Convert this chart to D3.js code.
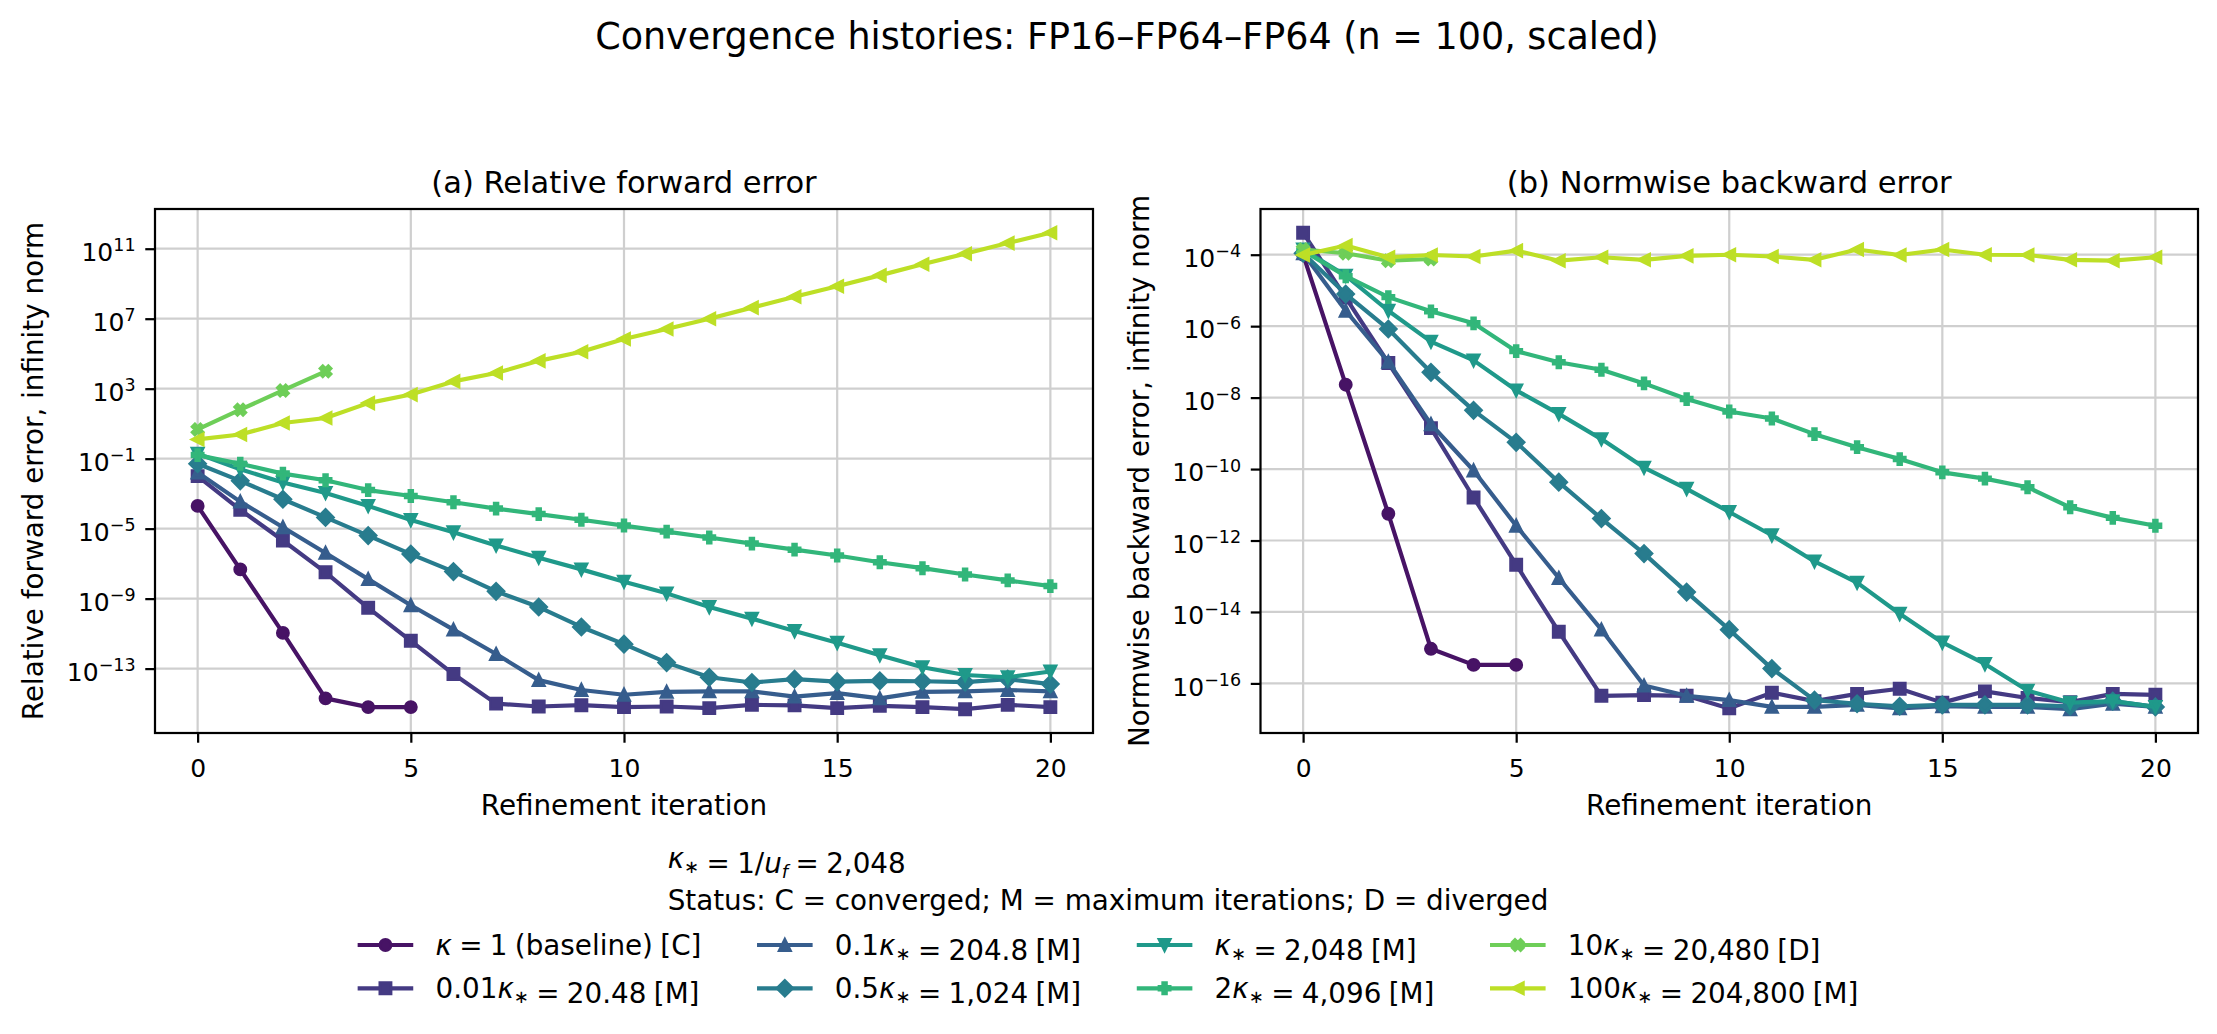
<!DOCTYPE html>
<html>
<head>
<meta charset="utf-8">
<title>Convergence histories: FP16–FP64–FP64</title>
<style>
  body { margin: 0; background: #fff; }
  svg text { font-family: "DejaVu Sans", sans-serif; fill: #000; }
</style>
</head>
<body>
<div id="chart"></div>
<script src="https://cdn.jsdelivr.net/npm/d3@7/dist/d3.min.js"></script>
<script>
// iterations on the x axis
const iterations = [0, 1, 2, 3, 4, 5, 6, 7, 8, 9, 10, 11, 12, 13, 14, 15, 16, 17, 18, 19, 20];
const xTicks = [0, 5, 10, 15, 20];
const fwdTicks = [1e-13, 1e-9, 1e-5, 1e-1, 1e3, 1e7, 1e11];
const bwdTicks = [1e-16, 1e-14, 1e-12, 1e-10, 1e-8, 1e-6, 1e-4];

// legend pieces: coefficient of kappa_*, its value, run status
const kappaCoef = ['', '0.01', '0.1', '0.5', '', '2', '10', '100'];
const kappaValue = ['1', '20.48', '204.8', '1,024', '2,048', '4,096', '20,480', '204,800'];
const runStatus = ['C', 'M', 'M', 'M', 'M', 'M', 'D', 'M'];
const markerKind = ['circle', 'square', 'triUp', 'diamond', 'triDown', 'plus', 'cross', 'triLeft'];

// (a) relative forward error, one array per kappa
const fwdK1    = [2.0e-4, 4.7e-8, 1.1e-11, 2.0e-15, 6.3e-16, 6.3e-16];
const fwdK001  = [1.0e-2, 1.2e-4, 2.1e-6, 3.2e-8, 3.0e-10, 3.9e-12, 4.9e-14, 1.0e-15, 6.8e-16, 8.1e-16, 6.3e-16, 6.8e-16, 5.5e-16, 8.5e-16, 7.9e-16, 5.5e-16, 7.4e-16, 6.3e-16, 4.8e-16, 8.5e-16, 6.3e-16];
const fwdK01   = [1.6e-2, 3.5e-4, 1.2e-5, 4.1e-7, 1.3e-8, 4.2e-10, 1.7e-11, 6.8e-13, 2.2e-14, 6.0e-15, 3.2e-15, 4.7e-15, 5.0e-15, 5.0e-15, 2.5e-15, 4.0e-15, 2.0e-15, 4.7e-15, 5.0e-15, 6.0e-15, 5.0e-15];
const fwdK05   = [5.1e-2, 5.4e-3, 4.8e-4, 4.4e-5, 4.0e-6, 3.5e-7, 3.5e-8, 2.6e-9, 3.3e-10, 2.4e-11, 2.5e-12, 2.2e-13, 3.2e-14, 1.6e-14, 2.5e-14, 1.8e-14, 2.0e-14, 1.9e-14, 1.7e-14, 2.5e-14, 1.3e-14];
const fwdKstar = [1.9e-1, 2.5e-2, 4.3e-3, 1.1e-3, 2.0e-4, 3.1e-5, 6.2e-6, 1.1e-6, 2.2e-7, 4.7e-8, 9.3e-9, 2.0e-9, 3.3e-10, 7.2e-11, 1.4e-11, 3.0e-12, 5.9e-13, 1.2e-13, 4.3e-14, 3.2e-14, 6.8e-14];
const fwdK2    = [1.6e-1, 5.1e-2, 1.4e-2, 5.8e-3, 1.6e-3, 7.4e-4, 3.2e-4, 1.4e-4, 6.8e-5, 3.2e-5, 1.5e-5, 6.8e-6, 3.1e-6, 1.4e-6, 6.3e-7, 2.9e-7, 1.2e-7, 5.5e-8, 2.4e-8, 1.1e-8, 5.2e-9];
const fwdK10   = [4.7, 63, 790, 9800];
const fwdK100  = [1.26, 2.4, 11, 21, 150, 460, 2600, 7800, 3.9e4, 1.3e5, 6.9e5, 2.6e6, 1.0e7, 4.3e7, 1.8e8, 7.2e8, 3.0e9, 1.3e10, 5.2e10, 2.1e11, 8.1e11];

// (b) normwise backward error
const bwdK1    = [1.0e-4, 2.3e-8, 5.6e-12, 9.3e-16, 3.3e-16, 3.3e-16];
const bwdK001  = [4.1e-4, 6.3e-6, 9.3e-8, 1.4e-9, 1.6e-11, 2.1e-13, 2.8e-15, 4.5e-17, 4.7e-17, 4.5e-17, 2.0e-17, 5.5e-17, 3.2e-17, 5.1e-17, 7.1e-17, 2.9e-17, 6.0e-17, 3.9e-17, 3.0e-17, 5.1e-17, 4.8e-17];
const bwdK01   = [1.1e-4, 2.7e-6, 1.0e-7, 1.8e-9, 9.1e-11, 2.6e-12, 8.9e-14, 3.2e-15, 8.7e-17, 4.5e-17, 3.4e-17, 2.2e-17, 2.2e-17, 2.5e-17, 2.0e-17, 2.3e-17, 2.2e-17, 2.2e-17, 1.9e-17, 2.7e-17, 2.2e-17];
const bwdK05   = [1.1e-4, 7.9e-6, 8.3e-7, 5.1e-8, 4.4e-9, 5.6e-10, 4.3e-11, 4.1e-12, 4.3e-13, 3.6e-14, 3.2e-15, 2.6e-16, 3.4e-17, 2.7e-17, 2.3e-17, 2.5e-17, 2.5e-17, 2.5e-17, 2.3e-17, 3.2e-17, 2.2e-17];
const bwdKstar = [1.4e-4, 2.6e-5, 2.7e-6, 3.7e-7, 1.1e-7, 1.6e-8, 3.5e-9, 6.9e-10, 1.1e-10, 2.8e-11, 6.3e-12, 1.4e-12, 2.6e-13, 6.6e-14, 8.9e-15, 1.4e-15, 3.5e-16, 6.3e-17, 2.9e-17, 3.2e-17, 2.2e-17];
const bwdK2    = [1.3e-4, 2.5e-5, 6.5e-6, 2.6e-6, 1.2e-6, 2.0e-7, 9.8e-8, 6.0e-8, 2.5e-8, 9.1e-9, 4.1e-9, 2.6e-9, 9.5e-10, 4.1e-10, 1.9e-10, 8.1e-11, 5.4e-11, 3.1e-11, 8.5e-12, 4.3e-12, 2.6e-12];
const bwdK10   = [1.4e-4, 1.1e-4, 6.8e-5, 7.6e-5];
const bwdK100  = [9.8e-5, 1.8e-4, 8.5e-5, 9.8e-5, 8.9e-5, 1.3e-4, 6.8e-5, 8.5e-5, 7.2e-5, 9.3e-5, 1.0e-4, 8.9e-5, 7.2e-5, 1.4e-4, 9.8e-5, 1.4e-4, 1.0e-4, 9.8e-5, 7.2e-5, 6.8e-5, 8.5e-5];

const fwdSeries = [fwdK1, fwdK001, fwdK01, fwdK05, fwdKstar, fwdK2, fwdK10, fwdK100];
const bwdSeries = [bwdK1, bwdK001, bwdK01, bwdK05, bwdKstar, bwdK2, bwdK10, bwdK100];

// ---- styling (matplotlib at 200 dpi) ----
const W = 2217, H = 1034;
const PT = 200 / 72;
const colors = kappaValue.map((_, i) => d3.interpolateViridis(0.05 + i * 0.85 / 7));
const lineW = 1.5 * PT, markSize = 4 * PT, edgeW = 1 * PT;
const tickLen = 3.5 * PT, tickW = 0.8 * PT;
const tickFont = 25, labelFont = 27.8, titleFont = 30.5;

const svg = d3.select('#chart').append('svg')
  .attr('width', W).attr('height', H);
svg.append('rect').attr('width', W).attr('height', H).attr('fill', '#fff');

function markerPath(kind, m) {
  const h = m / 2;
  const poly = pts => 'M' + pts.map(p => p.join(',')).join('L') + 'Z';
  switch (kind) {
    case 'circle': return `M${h},0A${h},${h} 0 1,1 ${-h},0A${h},${h} 0 1,1 ${h},0Z`;
    case 'square': return poly([[-h, -h], [h, -h], [h, h], [-h, h]]);
    case 'triUp': return poly([[0, -h], [h, h], [-h, h]]);
    case 'triDown': return poly([[0, h], [h, -h], [-h, -h]]);
    case 'triLeft': return poly([[-h, 0], [h, -h], [h, h]]);
    case 'diamond': { const d = m * Math.SQRT1_2; return poly([[0, -d], [d, 0], [0, d], [-d, 0]]); }
    case 'plus': {
      const p = [[-1, -3], [1, -3], [1, -1], [3, -1], [3, 1], [1, 1], [1, 3], [-1, 3], [-1, 1], [-3, 1], [-3, -1], [-1, -1]];
      return poly(p.map(([a, b]) => [a * m / 6, b * m / 6]));
    }
    case 'cross': {
      const p = [[-1, -2], [0, -1], [1, -2], [2, -1], [1, 0], [2, 1], [1, 2], [0, 1], [-1, 2], [-2, 1], [-1, 0], [-2, -1]];
      return poly(p.map(([a, b]) => [a * m / 4, b * m / 4]));
    }
  }
}

function logDomain(list) {
  const all = list.flat();
  const lo = Math.log10(d3.min(all)), hi = Math.log10(d3.max(all));
  const pad = (hi - lo) * 0.05;
  return [Math.pow(10, lo - pad), Math.pow(10, hi + pad)];
}

function expLabel(text, v) {
  const e = Math.round(Math.log10(v));
  text.text(null);
  text.append('tspan').text('10');
  text.append('tspan').attr('font-size', tickFont * 0.7).attr('dy', -9.6)
    .text(e < 0 ? '\u2212' + (-e) : String(e));
}

const panels = [
  { left: 155, right: 1093, top: 209, bottom: 733, series: fwdSeries, ticks: fwdTicks,
    title: '(a) Relative forward error', ylabel: 'Relative forward error, infinity norm' },
  { left: 1260.5, right: 2198, top: 209, bottom: 733, series: bwdSeries, ticks: bwdTicks,
    title: '(b) Normwise backward error', ylabel: 'Normwise backward error, infinity norm' }
];

panels.forEach((p, pi) => {
  const x = d3.scaleLinear().domain([-1, 21]).range([p.left, p.right]);
  const y = d3.scaleLog().domain(logDomain(p.series)).range([p.bottom, p.top]);
  const g = svg.append('g');

  const clipId = 'clip' + pi;
  svg.append('clipPath').attr('id', clipId).append('rect')
    .attr('x', p.left).attr('y', p.top)
    .attr('width', p.right - p.left).attr('height', p.bottom - p.top);

  // grid
  const grid = g.append('g').attr('stroke', '#cfcfcf').attr('stroke-width', 0.8 * PT);
  grid.selectAll('.gx').data(xTicks).join('line')
    .attr('x1', d => x(d)).attr('x2', d => x(d)).attr('y1', p.top).attr('y2', p.bottom);
  grid.selectAll('.gy').data(p.ticks).join('line')
    .attr('x1', p.left).attr('x2', p.right).attr('y1', d => y(d)).attr('y2', d => y(d));

  // series
  const plot = g.append('g').attr('clip-path', `url(#${clipId})`);
  const line = d3.line().x((d, i) => x(iterations[i])).y(d => y(d));
  p.series.forEach((vals, si) => {
    plot.append('path').datum(vals)
      .attr('d', line).attr('fill', 'none')
      .attr('stroke', colors[si]).attr('stroke-width', lineW)
      .attr('stroke-linejoin', 'round');
    plot.append('g').selectAll('path').data(vals).join('path')
      .attr('transform', (d, i) => `translate(${x(iterations[i])},${y(d)})`)
      .attr('d', markerPath(markerKind[si], markSize))
      .attr('fill', colors[si]).attr('stroke', colors[si]).attr('stroke-width', edgeW)
      .attr('stroke-linejoin', 'miter');
  });

  // axes
  const xa = g.append('g').attr('transform', `translate(0,${p.bottom})`)
    .call(d3.axisBottom(x).tickValues(xTicks).tickSize(tickLen).tickSizeOuter(0));
  xa.select('.domain').remove();
  xa.selectAll('line').attr('stroke-width', tickW);
  xa.selectAll('text').attr('font-size', tickFont).attr('font-family', 'DejaVu Sans')
    .attr('y', 43.7).attr('dy', null).attr('fill', '#000');

  const ya = g.append('g').attr('transform', `translate(${p.left},0)`)
    .call(d3.axisLeft(y).tickValues(p.ticks).tickSize(tickLen).tickSizeOuter(0));
  ya.select('.domain').remove();
  ya.selectAll('line').attr('stroke-width', tickW);
  ya.selectAll('text').attr('font-size', tickFont).attr('font-family', 'DejaVu Sans')
    .attr('x', -2 * tickLen).attr('y', 11.7).attr('dy', null).attr('fill', '#000')
    .each(function (d) { expLabel(d3.select(this), d); });

  // spines
  g.append('rect').attr('x', p.left).attr('y', p.top)
    .attr('width', p.right - p.left).attr('height', p.bottom - p.top)
    .attr('fill', 'none').attr('stroke', '#000').attr('stroke-width', 0.8 * PT);

  const cx = (p.left + p.right) / 2;
  g.append('text').attr('x', cx).attr('y', 193.3).attr('text-anchor', 'middle')
    .attr('font-size', titleFont).text(p.title);
  g.append('text').attr('x', cx).attr('y', 815).attr('text-anchor', 'middle')
    .attr('font-size', labelFont).text('Refinement iteration');
  g.append('text').attr('transform', `translate(${p.left - 112},${(p.top + p.bottom) / 2}) rotate(-90)`)
    .attr('text-anchor', 'middle').attr('font-size', labelFont).text(p.ylabel);
});

svg.append('text').attr('x', 1127).attr('y', 49).attr('text-anchor', 'middle')
  .attr('font-size', 36.5).text('Convergence histories: FP16\u2013FP64\u2013FP64 (n = 100, scaled)');

// ---- legend ----
const subDy = 5, subSize = labelFont * 0.65;
function kappaStar(t) {
  t.append('tspan').attr('font-style', 'italic').text('\u03ba');
  t.append('tspan').attr('font-size', subSize).attr('dy', subDy).text('\u2217');
  t.append('tspan').attr('dy', -subDy).text('');
}
function entryLabel(t, i) {
  if (i === 0) {
    t.append('tspan').attr('font-style', 'italic').text('\u03ba');
    t.append('tspan').text(` = ${kappaValue[i]} (baseline) [${runStatus[i]}]`);
    return;
  }
  if (kappaCoef[i]) t.append('tspan').text(kappaCoef[i]);
  kappaStar(t);
  t.append('tspan').text(` = ${kappaValue[i]} [${runStatus[i]}]`);
}

const legend = svg.append('g');
const legendCx = 1108;
const handleLen = 2 * labelFont, handlePad = 0.8 * labelFont, colSpace = 2 * labelFont;
const rowY = [945, 988.3];
const ncol = 4;

const entries = kappaValue.map((_, i) => {
  const eg = legend.append('g');
  eg.append('line').attr('x1', 0).attr('x2', handleLen).attr('y1', 0).attr('y2', 0)
    .attr('stroke', colors[i]).attr('stroke-width', lineW);
  eg.append('path').attr('transform', `translate(${handleLen / 2},0)`)
    .attr('d', markerPath(markerKind[i], markSize))
    .attr('fill', colors[i]).attr('stroke', colors[i]).attr('stroke-width', edgeW);
  const t = eg.append('text').attr('x', handleLen + handlePad).attr('y', 10)
    .attr('font-size', labelFont).attr('word-spacing', -1.5);
  entryLabel(t, i);
  return { g: eg, w: t.node().getComputedTextLength() };
});

const colW = d3.range(ncol).map(c => handleLen + handlePad + d3.max([entries[2 * c].w, entries[2 * c + 1].w]));
const totalW = d3.sum(colW) + colSpace * (ncol - 1);
let cx0 = legendCx - totalW / 2;
d3.range(ncol).forEach(c => {
  [0, 1].forEach(r => entries[2 * c + r].g.attr('transform', `translate(${cx0},${rowY[r]})`));
  cx0 += colW[c] + colSpace;
});

// legend title, two left-aligned lines centred as a block
const titleG = legend.append('g');
const t1 = titleG.append('text').attr('y', 868).attr('font-size', labelFont).attr('word-spacing', -1.5);
kappaStar(t1);
t1.append('tspan').text(' = 1/');
t1.append('tspan').attr('font-style', 'italic').text('u');
t1.append('tspan').attr('font-style', 'italic').attr('font-size', subSize).attr('dy', subDy).text('f');
t1.append('tspan').attr('dy', -subDy).text(' = 2,048');
const t2 = titleG.append('text').attr('y', 910).attr('font-size', labelFont)
  .text('Status: C = converged; M = maximum iterations; D = diverged');
const blockW = Math.max(t1.node().getComputedTextLength(), t2.node().getComputedTextLength());
titleG.attr('transform', `translate(${legendCx - blockW / 2},0)`);
</script>
</body>
</html>
